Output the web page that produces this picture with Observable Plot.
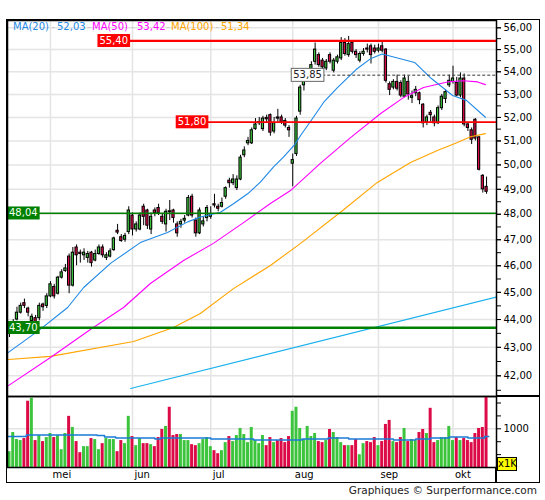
<!DOCTYPE html>
<html><head><meta charset="utf-8">
<script src="https://cdn.jsdelivr.net/npm/d3@7"></script>
<script src="https://cdn.jsdelivr.net/npm/@observablehq/plot@0.6"></script>
<style>
body{margin:0;background:#fff;font-family:"DejaVu Sans",sans-serif;}
#wrap{position:relative;width:545px;height:500px;overflow:hidden;background:#fff}
#wrap svg{position:absolute;left:0}
.abs{position:absolute}
.lg{position:absolute;top:21px;font-size:10px;line-height:12px;white-space:nowrap}
</style></head><body><div id="wrap"></div><script>
// ---- data ----
const open=[43.55,43.70,44.00,44.25,44.60,44.40,43.95,44.05,44.05,44.55,
44.50,44.85,45.20,44.95,45.55,45.80,46.35,45.25,46.70,46.50,
46.40,46.30,46.50,46.20,46.45,46.70,46.30,46.35,46.60,47.35,
47.10,47.00,47.30,47.95,47.40,47.40,48.30,48.15,47.40,48.15,
48.25,47.90,47.60,48.12,48.15,47.60,47.60,47.75,47.95,48.70,
47.75,47.25,47.60,47.85,47.90,48.40,48.30,48.30,48.70,49.35,
49.25,49.05,49.40,50.40,50.90,50.90,51.50,51.75,51.50,51.98,
52.10,51.40,52.00,52.00,51.85,51.55,50.05,50.45,52.25,53.40,
53.85,54.10,54.45,54.75,54.50,54.15,54.75,54.05,54.45,54.60,
55.30,54.75,55.30,54.90,54.50,54.80,55.05,55.15,55.05,54.95,
55.15,55.00,53.45,53.30,53.55,53.50,52.90,53.55,52.85,53.05,
53.05,52.55,51.80,52.20,52.00,51.75,52.40,52.80,53.40,53.55,
53.50,52.95,53.70,51.70,51.45,51.90,51.15,49.55,49.10];
const close=[43.65,43.85,44.25,44.50,44.50,44.25,44.10,43.90,44.50,44.45,
44.85,45.30,44.85,45.55,45.75,45.90,45.25,46.50,46.40,46.45,
46.50,46.45,46.10,46.45,46.70,46.40,46.40,46.55,47.05,47.28,
46.95,47.15,48.15,47.40,47.60,47.95,47.90,47.55,47.90,48.05,
48.05,47.70,48.10,48.08,47.85,47.25,47.70,47.82,48.65,47.95,
47.25,48.15,47.72,48.25,48.00,48.35,48.22,48.45,49.05,49.25,
49.40,49.40,50.30,50.60,51.00,51.45,51.70,51.80,51.95,51.92,
51.35,51.75,51.95,51.80,51.65,51.45,50.20,51.95,53.30,53.65,
53.95,54.30,55.00,54.30,54.20,54.45,54.45,54.50,54.65,55.30,
54.80,55.25,54.90,54.75,54.80,54.90,55.00,54.75,54.90,55.05,
54.95,53.60,53.20,53.55,53.25,52.95,53.70,53.00,52.92,53.20,
52.75,51.75,52.00,52.10,51.75,52.40,52.90,53.10,53.60,53.70,
52.95,53.70,51.70,51.55,51.05,51.10,49.80,49.00,48.90];
const high=[43.80,44.00,44.45,44.60,44.75,44.45,44.20,44.15,44.60,44.60,
44.95,45.40,45.30,45.60,45.85,46.05,46.45,46.70,46.80,46.60,
46.65,46.55,46.55,46.60,46.80,46.80,46.50,46.65,47.10,47.60,
47.20,47.25,48.30,48.05,47.70,48.05,48.40,48.20,48.05,48.25,
48.40,48.00,48.20,48.55,48.20,47.70,47.80,47.95,48.75,48.80,
47.85,48.25,47.90,48.35,48.30,48.80,48.40,48.65,49.10,49.45,
49.60,49.55,50.40,50.75,51.15,51.55,51.95,52.00,52.05,52.10,
52.15,52.00,52.35,52.10,51.95,51.65,50.45,52.05,53.40,53.75,
54.10,54.45,55.30,54.85,54.60,54.55,54.85,54.60,54.75,55.55,
55.50,55.60,55.40,55.00,54.90,55.05,55.25,55.25,55.20,55.25,
55.35,55.05,53.55,53.65,53.85,53.60,53.85,53.80,53.15,53.35,
53.10,52.60,52.10,52.30,52.10,52.50,53.00,53.20,53.85,54.25,
53.75,53.95,53.90,51.75,51.55,51.95,51.20,49.60,49.50];
const low=[43.35,43.60,43.95,44.20,44.40,44.10,43.85,43.75,43.95,44.30,
44.40,44.80,44.75,44.90,45.50,45.75,44.95,45.20,46.00,46.10,
46.20,46.10,45.95,46.15,46.40,46.30,46.20,46.30,46.55,47.20,
46.90,46.90,47.20,47.15,47.30,47.35,47.55,47.40,47.20,47.90,
47.95,47.60,47.30,47.75,47.65,47.10,47.45,47.65,47.90,47.85,
47.10,47.20,47.50,47.70,47.80,48.25,48.10,48.25,48.60,49.05,
49.15,48.95,49.35,50.30,50.80,50.85,51.45,51.65,51.40,51.75,
51.20,51.30,51.80,51.70,51.55,51.15,49.10,50.35,52.10,53.15,
53.70,54.00,54.30,54.20,54.10,54.05,54.35,53.95,54.35,54.50,
54.70,54.65,54.80,54.60,54.40,54.70,54.85,54.35,54.80,54.85,
54.85,53.50,52.95,53.20,53.15,52.85,52.85,52.75,52.60,52.90,
52.55,51.55,51.65,51.80,51.60,51.70,52.30,52.60,53.30,53.45,
52.90,52.85,51.60,51.40,50.85,51.00,49.75,48.85,48.80];
const volume=[409,904,722,696,748,1713,1791,696,826,670,
774,878,774,826,461,878,1322,1035,670,383,
539,539,748,722,461,617,748,722,722,409,
696,617,1322,800,565,748,617,617,591,539,
774,983,1061,1557,826,852,852,696,696,591,
565,617,722,774,539,435,357,435,643,800,
670,826,1009,852,643,1035,696,617,826,565,
774,643,696,748,643,800,1452,1557,1009,722,
1061,800,878,670,643,696,983,904,774,643,
565,565,565,722,330,617,670,643,774,565,
670,1113,1217,670,643,774,1009,670,722,696,
904,983,878,1530,643,696,774,774,1061,696,
774,696,748,696,643,878,1009,1035,1900];
// moving averages: [day index, value]
const ma20=[[-0.3,42.82],[7.8,43.60],[15.6,44.44],[19.9,45.18],[27.1,46.09],[35.1,46.89],[42.4,47.28],[47.8,47.70],[51.2,47.89],[56.6,48.08],[60.1,48.42],[63.9,48.82],[67.3,49.29],[70.8,49.91],[73.5,50.32],[76.7,50.88],[78.1,51.23],[81.5,52.00],[84.5,52.70],[88,53.30],[93,54.10],[97,54.60],[100,54.80],[108.7,54.42],[113.2,53.70],[118.9,52.95],[122.6,52.74],[127.7,52.01]];
const ma50=[[-0.3,41.66],[11,42.64],[21.7,43.64],[30.6,44.44],[37.8,45.33],[46.7,46.20],[54.7,46.86],[62.8,47.67],[70,48.43],[75.4,48.95],[83.4,50.06],[91.5,51.14],[99.6,52.17],[105.7,52.86],[111.1,53.30],[117.5,53.55],[121.8,53.60],[125.6,53.55],[127.7,53.43]];
const ma100=[[-0.3,42.57],[11,42.68],[33.3,43.21],[44,43.71],[51.2,44.22],[60.1,45.14],[70,46.01],[78.1,46.86],[89.4,48.15],[98.7,49.28],[107.6,50.10],[114.8,50.60],[120.2,50.93],[123.7,51.18],[127.7,51.31]];
const longTrend=[[32.5,41.56],[130.67,44.83]];
const volAvg=[[-0.5,800],[4.5,843],[23.5,826],[25.5,791],[28.5,765],[39,739],[40.5,765],[54,739],[65.5,713],[78.5,739],[85.5,765],[91,739],[103,713],[109,739],[113,765],[118,790],[123,765],[127.5,800],[128.6,800]];
const monthTicks=[11,33,54,76,99,119];
const monthLabels=["mei","jun","jul","aug","sep","okt"];
const priceTicks=d3.range(42,57);
const priceMinorTicks=d3.range(41.5,56.01,0.5);
const volTicks=[1000/3,2000/3,1000,4000/3,5000/3];
const levelValues=[55.40,51.80,48.04,43.70,53.85];
const levelLabels=["55,40","51,80","48,04","43,70","53,85"];
const levelKinds=["res","res","sup","sup","ref"];
const levelFrom=[24,45,0,0,76];
const legendLabels=["MA(20)","52,03","MA(50)","53,42","MA(100)","51,34"];

// ---- build ----
const candles=open.map((o,i)=>({i,open:o,high:high[i],low:low[i],close:close[i],volume:volume[i],up:close[i]>=o}));
const pts=a=>a.map(([i,v])=>({i,v}));
const levels=levelValues.map((v,k)=>({value:v,label:levelLabels[k],kind:levelKinds[k],from:levelFrom[k]}));
const GREEN="#3cc43c",RED="#dc0a46";
const xDomain=[-0.537,130.67];
const monthName=new Map(monthTicks.map((t,k)=>[t,monthLabels[k]]));
const fmt=d=>d.toFixed(2).replace(".",",");
const style={fontFamily:"DejaVu Sans",fontSize:"10px",background:"transparent",overflow:"visible"};
const grid={stroke:"#e4e4e4",strokeOpacity:1,strokeWidth:1.5};

const price=Plot.plot({
  width:545,height:396,marginLeft:7,marginRight:49,marginTop:20,marginBottom:0,style,
  x:{domain:xDomain,axis:null,label:null},
  y:{type:"log",domain:[41.288,56.339],label:null},
  marks:[
    Plot.gridX(monthTicks,grid),
    Plot.gridY(priceTicks,grid),
    Plot.ruleX(candles,{x:"i",y1:"low",y2:"high",stroke:"#000",strokeWidth:1}),
    Plot.rect(candles,{x1:d=>d.i-0.3,x2:d=>d.i+0.3,y1:d=>Math.min(d.open,d.close),y2:d=>Math.max(d.open,d.close),fill:d=>d.up?GREEN:RED,stroke:"#000",strokeWidth:1}),
    Plot.line(pts(longTrend),{x:"i",y:"v",stroke:"#1ab2ee",strokeWidth:1.1,clip:true}),
    Plot.line(pts(ma100),{x:"i",y:"v",stroke:"#ffa500",strokeWidth:1.1,clip:true}),
    Plot.line(pts(ma50),{x:"i",y:"v",stroke:"#ff00ff",strokeWidth:1.1,clip:true}),
    Plot.line(pts(ma20),{x:"i",y:"v",stroke:"#1e88e5",strokeWidth:1.1,clip:true}),
    Plot.ruleY(levels.filter(d=>d.kind==="ref"),{y:"value",x1:"from",x2:xDomain[1],stroke:"#333",strokeWidth:1,strokeDasharray:"3,2",clip:true}),
    Plot.ruleY(levels.filter(d=>d.kind==="res"),{y:"value",x1:"from",x2:xDomain[1],stroke:"#ff0000",strokeWidth:d=>d.value>55?2.4:1.7,clip:true}),
    Plot.ruleY(levels.filter(d=>d.kind==="sup"),{y:"value",x1:"from",x2:xDomain[1],stroke:"#008000",strokeWidth:d=>d.value<44?2.4:1.6,clip:true}),
    Plot.text(levels.filter(d=>d.kind==="res"),{x:"from",y:"value",text:"label",textAnchor:"start",dx:0.5,fill:"#fff",className:"lvl-res"}),
    Plot.text(levels.filter(d=>d.kind==="sup"),{x:"from",y:"value",text:"label",textAnchor:"start",dx:-0.5,fill:"#f0fff0",className:"lvl-sup"}),
    Plot.text(levels.filter(d=>d.kind==="ref"),{x:"from",y:"value",text:"label",textAnchor:"start",dx:0.5,fill:"#222",className:"lvl-ref"}),
    Plot.frame({stroke:"#000",strokeWidth:1.5}),
    Plot.axisY(priceMinorTicks,{anchor:"right",tickSize:4,tickFormat:()=>"",stroke:"#000",label:null}),
    Plot.axisY(priceTicks,{anchor:"right",tickSize:4,tickPadding:3,tickFormat:fmt,fill:"#000",label:null})
  ]
});

const vol=Plot.plot({
  width:545,height:86,marginLeft:7,marginRight:49,marginTop:0,marginBottom:15,style,
  x:{domain:xDomain,label:null},
  y:{domain:[0,1835],label:null},
  marks:[
    Plot.gridX(monthTicks,grid),
    Plot.gridY([1000],grid),
    Plot.rect(candles,{x1:d=>d.i-0.4,x2:d=>d.i+0.4,y1:0,y2:"volume",fill:d=>d.up?GREEN:RED,clip:true}),
    Plot.line(pts(volAvg),{x:"i",y:"v",curve:"step-after",stroke:"#1b7bd6",strokeWidth:1.5,clip:true}),
    Plot.frame({stroke:"#000",strokeWidth:1.5}),
    Plot.axisY(volTicks,{anchor:"right",tickSize:4,tickPadding:3,tickFormat:d=>d===1000?"1000":"",label:null}),
    Plot.axisX(monthTicks,{anchor:"bottom",tickSize:0,tickPadding:3,textAnchor:"start",dx:2,tickFormat:d=>monthName.get(d),label:null})
  ]
});

const wrap=document.getElementById("wrap");
price.style.top="0px";
vol.style.top="396px";
wrap.appendChild(price);
wrap.appendChild(vol);

// boxes behind the level labels
const boxStyle={"lvl-res":["#ff0000","none"],"lvl-sup":["#008000","none"],"lvl-ref":["#fff","#666"]};
for(const cls of Object.keys(boxStyle)){
  d3.select(price).selectAll("g."+cls+" text").each(function(){
    const b=this.getBBox();
    const cy=b.y+b.height/2;
    const r=document.createElementNS("http://www.w3.org/2000/svg","rect");
    r.setAttribute("x",b.x-2);r.setAttribute("y",cy-6.5);
    r.setAttribute("width",b.width+4);r.setAttribute("height",13);
    r.setAttribute("fill",boxStyle[cls][0]);
    r.setAttribute("stroke",boxStyle[cls][1]);
    const t=this.getAttribute("transform");if(t)r.setAttribute("transform",t);
    this.parentNode.insertBefore(r,this);
  });
}

// outer frame & decorations
function div(css,html){const d=document.createElement("div");d.className="abs";d.style.cssText=css;if(html!=null)d.innerHTML=html;wrap.appendChild(d);return d;}
div("left:6px;top:19px;width:534px;height:464px;border:1.5px solid #000;box-sizing:border-box;");
div("left:496px;top:395.25px;width:44px;height:1.5px;background:#000;");
div("left:495.25px;top:467px;width:1.5px;height:15px;background:#000;");
div("left:497px;top:457px;width:20px;height:14px;background:#ffff00;border:1px solid #000;box-sizing:border-box;font-size:10px;line-height:12px;text-align:center;color:#000;","x1K");
div("right:8px;top:484px;font-size:10.5px;line-height:13px;color:#222;white-space:nowrap;","Graphiques © Surperformance.com");

// legend
const legendColors=["#1e88e5","#1e88e5","#ff00ff","#ff00ff","#ffa500","#ffa500"];
const legendLeft=[13,57,92,137,171,221];
const sepLeft=[51.5,87,131,166.3,215.4];
legendLabels.forEach((t,k)=>{const s=div("",t);s.className="lg";s.style.left=legendLeft[k]+"px";s.style.color=legendColors[k];});
sepLeft.forEach(x=>{const s=div("","-");s.className="lg";s.style.left=x+"px";s.style.color="#c8c8c8";});
</script></body></html>
